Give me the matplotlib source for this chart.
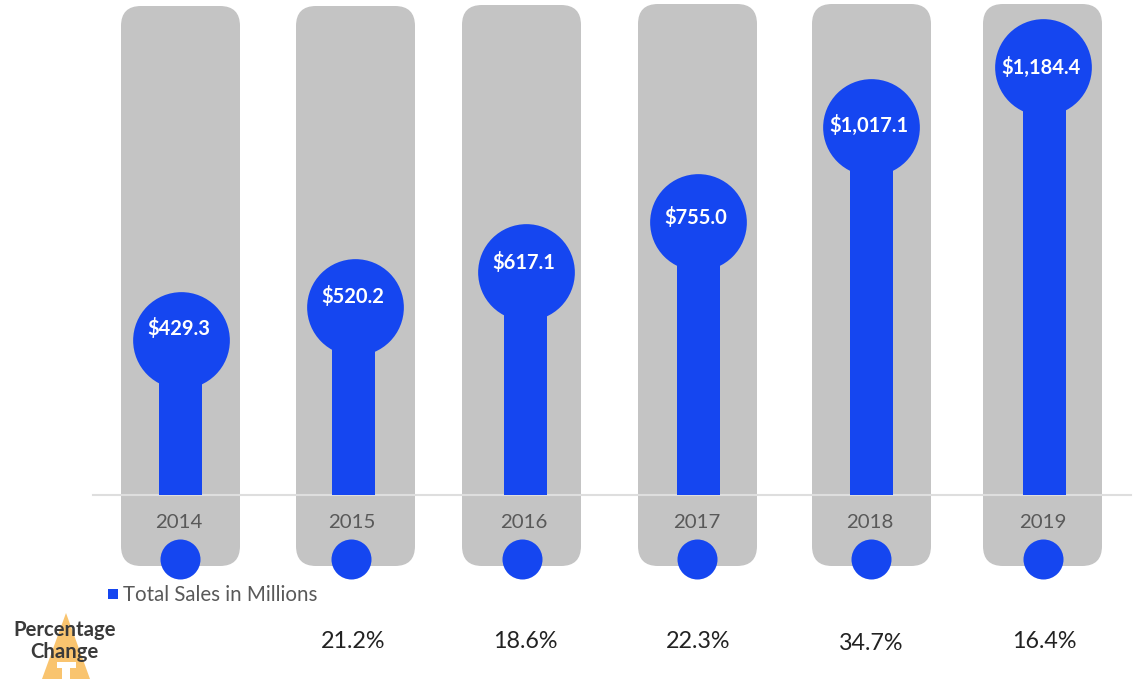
import matplotlib
matplotlib.use("Agg")
import matplotlib.pyplot as plt
from matplotlib.patches import FancyBboxPatch, Polygon

plt.rcParams["font.family"] = ["Lato", "DejaVu Sans"]

years = ["2014", "2015", "2016", "2017", "2018", "2019"]
sales = [429.3, 520.2, 617.1, 755.0, 1017.1, 1184.4]
pct_change = ["", "21.2%", "18.6%", "22.3%", "34.7%", "16.4%"]

BLUE = "#1546F0"
GREY = "#C4C4C4"
W, H = 1140, 684
BASE_Y = 495           # pixel row of the zero line
PX_PER_UNIT = 0.3614   # pixels per $M

# layout, all in pixels
panel_left = [121, 296, 462, 638, 812, 983]
panel_top = [6, 6, 5, 4, 4, 4]
panel_w = 119
panel_bottom = 566
bar_x = [180, 353, 525, 698, 871, 1044]
head_x = [181, 355, 526, 698, 871, 1043]
dot_x = [180, 351, 522, 697, 871, 1043]
pct_y = [0, 641, 641, 641, 643, 641]
label_lift = [11, 10, 9, 5, 2, 0]   # value labels sit a bit above the head centre

fig = plt.figure(figsize=(W / 100, H / 100), dpi=100)

# pixel layer for the decoration behind and around the bars
deco = fig.add_axes([0, 0, 1, 1], zorder=1)
deco.set_xlim(0, W)
deco.set_ylim(H, 0)
deco.axis("off")

# sales layer: same x pixels, y in $M with zero on the baseline
ax = fig.add_axes([0, 0, 1, 1], zorder=2)
ax.patch.set_alpha(0)
ax.set_xlim(0, W)
ax.set_ylim((BASE_Y - H) / PX_PER_UNIT, BASE_Y / PX_PER_UNIT)
ax.axis("off")

for left, top in zip(panel_left, panel_top):
    deco.add_patch(FancyBboxPatch(
        (left + 20, top + 20), panel_w - 40, panel_bottom - top - 40,
        boxstyle="round,pad=20,rounding_size=20", fc=GREY, ec="none"))

deco.plot([93, 1131], [495, 495], color="#DEDEDE", lw=1.5, zorder=3)

ax.bar(bar_x, sales, width=43, color=BLUE, zorder=3)
ax.scatter(head_x, sales, s=4850, color=BLUE, linewidths=0, zorder=4)

for x, val, lift in zip(head_x, sales, label_lift):
    ax.annotate(f"${val:,.1f}", xy=(x, val), xytext=(-1.5, lift * 0.72),
                textcoords="offset points", color="white", fontsize=14.5,
                fontweight="bold", ha="center", va="center", zorder=5)

for x, bx, year in zip(dot_x, bar_x, years):
    deco.scatter(x, 559, s=830, color=BLUE, linewidths=0, zorder=4)
    deco.text(bx - 1, 522, year, color="#595959", fontsize=14.7,
              ha="center", va="center", zorder=5)

# legend
deco.scatter(113, 594, s=62, marker="s", color=BLUE, linewidths=0)
deco.text(123, 595, "Total Sales in Millions", color="#595959", fontsize=14.8,
          va="center")

# percentage row
deco.add_patch(Polygon(
    [(66, 613), (90, 679), (70, 679), (70, 668), (76, 668), (76, 662), (57, 662),
     (57, 668), (62, 668), (62, 679), (42, 679)],
    fc="#F9C46F", ec="none"))
deco.text(64.5, 630, "Percentage", color="#3A3A3A", fontsize=14.6, fontweight="bold",
          ha="center", va="center")
deco.text(64.5, 652, "Change", color="#3A3A3A", fontsize=14.6, fontweight="bold",
          ha="center", va="center")

for x, y, label in zip(bar_x, pct_y, pct_change):
    deco.text(x, y, label, color="#222222", fontsize=16.8, ha="center", va="center")

fig.savefig("out.png", dpi=100)
